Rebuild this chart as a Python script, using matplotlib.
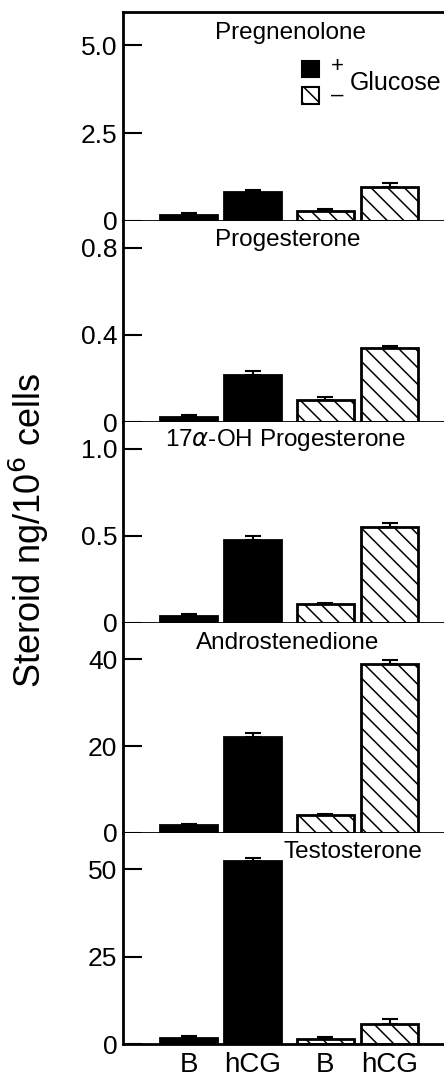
import matplotlib
matplotlib.use('Agg')
import matplotlib.pyplot as plt
from matplotlib.patches import Rectangle

plt.rcParams['font.family'] = ['Liberation Sans', 'DejaVu Sans']
plt.rcParams['hatch.linewidth'] = 1.1

# Данные (ng/10^6 cells)
groups = ['B', 'hCG', 'B', 'hCG']
steroids = ['Pregnenolone', 'Progesterone', '17$\\alpha$-OH Progesterone',
            'Androstenedione', 'Testosterone']
pregnenolone = [0.17, 0.82, 0.29, 0.97]
pregnenolone_err = [0.06, 0.06, 0.06, 0.11]
progesterone = [0.024, 0.217, 0.101, 0.338]
progesterone_err = [0.006, 0.016, 0.012, 0.013]
oh_progesterone = [0.04, 0.475, 0.107, 0.553]
oh_progesterone_err = [0.01, 0.023, 0.01, 0.023]
androstenedione = [1.77, 22.0, 4.23, 38.8]
androstenedione_err = [0.38, 0.9, 0.23, 0.9]
testosterone = [1.7, 52.2, 1.5, 5.77]
testosterone_err = [0.5, 1.0, 0.4, 1.25]

values = [pregnenolone, progesterone, oh_progesterone, androstenedione, testosterone]
errors = [pregnenolone_err, progesterone_err, oh_progesterone_err,
          androstenedione_err, testosterone_err]

# Оформление панелей
ylims = [5.94, 0.924, 1.155, 48.3, 60.3]
yticks = [[0, 2.5, 5.0], [0, 0.4, 0.8], [0, 0.5, 1.0], [0, 20, 40], [0, 25, 50]]
yticklabels = [['0', '2.5', '5.0'], ['0', '0.4', '0.8'], ['0', '0.5', '1.0'],
               ['0', '20', '40'], ['0', '25', '50']]
title_pos = [(0.523, 0.90), (0.514, 0.905), (0.505, 0.91), (0.512, 0.905), (0.716, 0.91)]
edges = [12, 221, 422, 623, 833, 1044]   # границы панелей в пикселях

xpos = [65.5, 129.5, 202, 266.5]
width = 57
W, H = 444, 1080

fig = plt.figure(figsize=(W / 100, H / 100), dpi=100)

axes = []
for i in range(5):
    top, bot = edges[i], edges[i + 1]
    ax = fig.add_axes([123 / W, 1 - bot / H, 1 - 123 / W, (bot - top) / H])
    axes.append(ax)
    for j in range(4):
        filled = j < 2
        ax.bar(xpos[j], values[i][j], width=width,
               color='black' if filled else 'white',
               edgecolor='black', linewidth=2,
               hatch=None if filled else '\\\\', zorder=2)
        ax.errorbar(xpos[j], values[i][j], yerr=[[0], [errors[i][j]]],
                    fmt='none', ecolor='black', elinewidth=1.5,
                    capsize=6, capthick=1.5, zorder=1)
    ax.set_xlim(0, 321)
    ax.set_ylim(0, ylims[i])
    ax.set_yticks(yticks[i])
    ax.set_yticklabels(yticklabels[i])
    ax.tick_params(axis='y', direction='in', length=14, width=1.5,
                   labelsize=19, pad=4)
    ax.spines['right'].set_visible(False)
    if i > 0:
        ax.spines['top'].set_visible(False)
    for s in ['left', 'bottom', 'top']:
        ax.spines[s].set_linewidth(2)
    if i < 4:
        ax.set_xticks([])
    else:
        ax.set_xticks(xpos)
        ax.set_xticklabels(groups)
        ax.tick_params(axis='x', length=0, labelsize=20, pad=6)
    ax.text(title_pos[i][0], title_pos[i][1], steroids[i], transform=ax.transAxes,
            ha='center', va='center', fontsize=17.5)

# Легенда
ax0 = axes[0]
ax0.add_patch(Rectangle((302, H - 77), 17, 16, transform=None,
                        facecolor='black', edgecolor='black', lw=1.5))
ax0.add_patch(Rectangle((302, H - 104), 17, 17, transform=None,
                        facecolor='white', edgecolor='black', lw=1.5, hatch='\\\\'))
fig.text(337 / W, 1 - 67 / H, '+', ha='center', va='center', fontsize=16)
fig.text(337 / W, 1 - 95 / H, '\u2013', ha='center', va='center', fontsize=16)
fig.text(350 / W, 1 - 83 / H, 'Glucose', ha='left', va='center', fontsize=18)

fig.text(29 / W, 1 - 530 / H, 'Steroid ng/10$^6$ cells', rotation=90,
         ha='center', va='center', fontsize=26)

fig.savefig('out.png', dpi=100)
